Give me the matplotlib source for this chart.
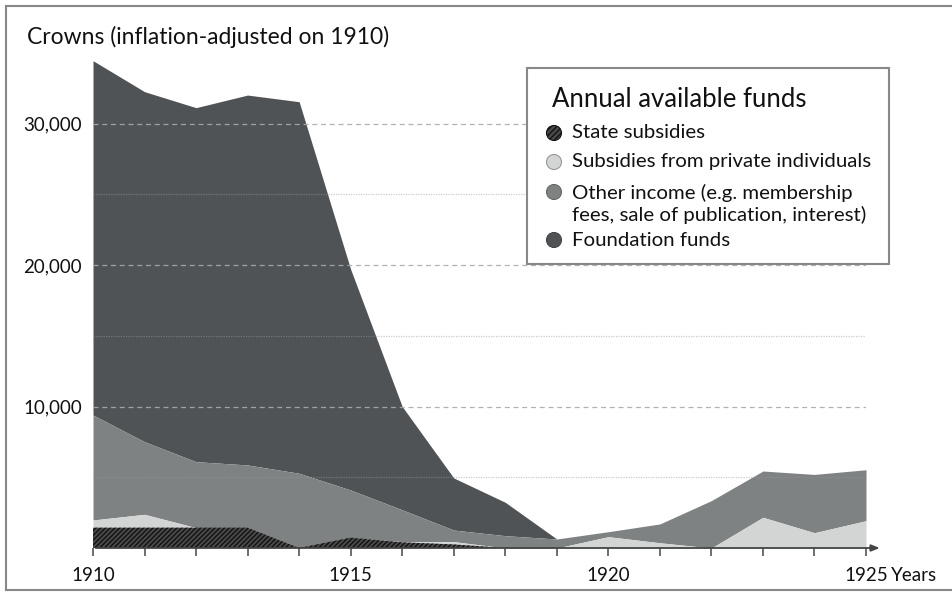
import matplotlib
matplotlib.use("Agg")
import matplotlib.pyplot as plt
from matplotlib.patches import Ellipse, Rectangle
from matplotlib.lines import Line2D
from matplotlib.transforms import offset_copy

plt.rcParams['font.family'] = ['Lato', 'DejaVu Sans']
plt.rcParams['hatch.linewidth'] = 1.0

# 数据：年份及各项资金（克朗，按1910年通胀调整）
years = list(range(1910, 1926))
state = [1435, 1435, 1435, 1435, 0, 730, 400, 250, 0, 0, 0, 0, 0, 0, 0, 0]
private = [545, 945, 0, 0, 0, 0, 50, 200, 0, 0, 800, 370, 0, 2170, 1080, 1930]
other = [7420, 5130, 4665, 4435, 5280, 3370, 2250, 820, 870, 636, 350, 1330, 3350, 3270, 4120, 3600]
foundation = [25040, 24740, 25020, 26140, 26260, 15600, 7300, 3680, 2360, 0, 0, 0, 0, 0, 0, 0]

legend_labels = ["State subsidies", "Subsidies from private individuals",
                 "Other income (e.g. membership\nfees, sale of publication, interest)",
                 "Foundation funds"]
y_ticks = [10000, 20000, 30000]
x_labels = [1910, 1915, 1920, 1925]

c_state, c_priv, c_other, c_found = '#4a4a4a', '#d3d4d4', '#7f8283', '#505355'

W, H = 952, 596
fig = plt.figure(figsize=(W / 100, H / 100), dpi=100)

def px(x, y):
    return x / W, 1 - y / H

ax = fig.add_axes([93 / W, (H - 548) / H, (866 - 93) / W, (548 - 52.75) / H])
ax.set_xlim(1910, 1925)
ax.set_ylim(0, 35000)

# 堆叠面积
b0 = [0] * len(years)
b1 = [a + b for a, b in zip(b0, state)]
b2 = [a + b for a, b in zip(b1, private)]
b3 = [a + b for a, b in zip(b2, other)]
b4 = [a + b for a, b in zip(b3, foundation)]

ax.fill_between(years, b3, b4, color=c_found, lw=0, zorder=2)
ax.fill_between(years, b2, b3, color=c_other, lw=0, zorder=2)
ax.fill_between(years, b1, b2, color=c_priv, lw=0, zorder=2)
ax.fill_between(years, b0, b1, facecolor=c_state, edgecolor='#111111', hatch='///////', lw=0, zorder=2)

# 网格线
for v in [5000, 15000, 25000]:
    ax.hlines(v, 1910, 1925, colors='#999999', alpha=0.5, lw=0.9, linestyles=(0, (1, 1)), zorder=3)
for v in y_ticks:
    ax.hlines(v, 1910, 1925, colors='#aaaaaa', alpha=0.9, lw=0.9, linestyles=(0, (4, 3)), zorder=3)

for s in ['top', 'right', 'left', 'bottom']:
    ax.spines[s].set_visible(False)

ax.set_yticks(y_ticks)
ax.set_yticklabels([f"{v:,}" for v in y_ticks], fontsize=13.5, color='#111111')
ax.tick_params(axis='y', length=0, pad=8)

ax.set_xticks(years)
ax.set_xticklabels([str(y) if y in x_labels else '' for y in years], fontsize=13.5, color='#111111')
ax.tick_params(axis='x', length=6, width=1.2, color='#555555', pad=8)

# x轴带箭头
ax.annotate('', xy=(1925.32, 0), xytext=(1910, 0), xycoords='data',
            arrowprops=dict(arrowstyle='-|>,head_length=0.5,head_width=0.2', color='#444444', lw=1.3),
            annotation_clip=False, zorder=4)

ax.text(1925, 0, 'Years', fontsize=13.5, color='#111111', ha='left', va='top',
        transform=offset_copy(ax.transData, fig, x=18, y=-14, units='points'))

fig.text(*px(27, 37), 'Crowns (inflation-adjusted on 1910)', fontsize=16.5, color='#111111', va='center')

# 图例框
lx0, ly0, lx1, ly1 = 527, 68, 889, 264
fig.add_artist(Rectangle(px(lx0, ly1), (lx1 - lx0) / W, (ly1 - ly0) / H, transform=fig.transFigure,
                         facecolor='white', edgecolor='#888888', lw=1.5, zorder=5))
fig.text(*px(552, 99), 'Annual available funds', fontsize=18.5, color='#111111', va='center', zorder=6)

rows = [133, 162, 192, 240]
text_y = [133, 162, 204, 240]
faces = [c_state, c_priv, c_other, c_found]
edges = ['#222222', '#999999', '#666666', '#444444']
for i, lab in enumerate(legend_labels):
    e = Ellipse(px(554, rows[i]), 15 / W, 15 / H, transform=fig.transFigure, facecolor=faces[i],
                edgecolor=edges[i], lw=0.8, zorder=6)
    if i == 0:
        e.set_hatch('//////')
        e.set_edgecolor('#111111')
    fig.add_artist(e)
    fig.text(*px(572, text_y[i]), lab, fontsize=14.7, color='#111111', va='center',
             linespacing=1.2, zorder=6)

# 外框
for seg in [((6, 6), (6, 590)), ((6, 6), (952, 6)), ((6, 590), (952, 590))]:
    (xa, ya), (xb, yb) = seg
    fig.add_artist(Line2D([xa / W, xb / W], [1 - ya / H, 1 - yb / H], transform=fig.transFigure,
                          color='#888888', lw=1.5))

fig.savefig('out.png', dpi=100)
